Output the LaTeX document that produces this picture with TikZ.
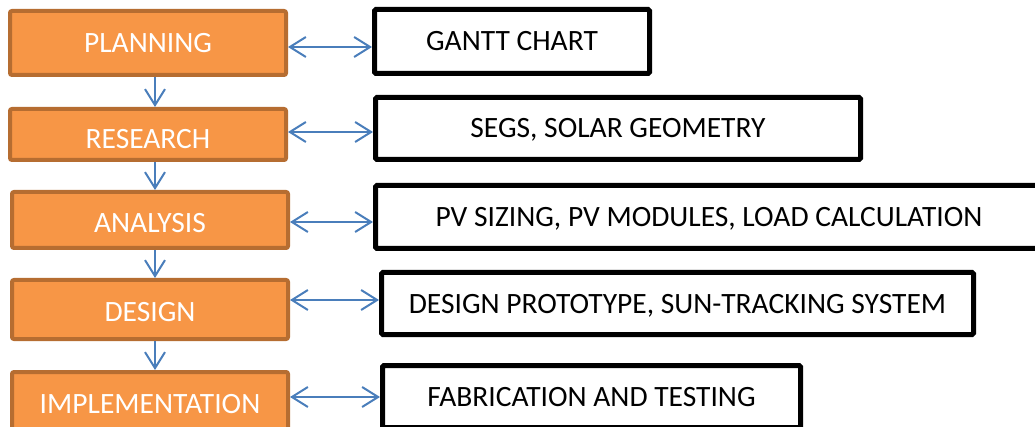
\documentclass[tikz,border=0pt]{standalone}
\usepackage{fontspec}
\setmainfont{Carlito}
\usepackage{tikz}
\usetikzlibrary{arrows.meta}
\definecolor{phasefill}{HTML}{F79646}
\definecolor{phaseline}{HTML}{B66D31}
\definecolor{linkblue}{HTML}{4A7EBB}
\tikzset{
  phase/.style={draw=phaseline, line width=4pt, fill=phasefill, rounded corners=2pt,
    text=white, font=\fontsize{29.5}{35}\selectfont, minimum width=276pt,
    inner sep=0pt, text height=19pt, text depth=0pt},
  task/.style={draw=black, line width=5pt, fill=white, rounded corners=1.5pt,
    font=\fontsize{29.5}{35}\selectfont, inner sep=0pt, text height=19pt, text depth=0pt},
  link/.style={draw=linkblue, line width=2pt,
    {Straight Barb[length=16pt,width=20pt]}-{Straight Barb[length=16pt,width=20pt]}},
  flow/.style={draw=linkblue, line width=2pt, -{Straight Barb[length=16pt,width=20pt]}}
}

\begin{document}
\begin{tikzpicture}[x=1pt,y=-1pt]
	  \useasboundingbox (0,0) rectangle (1035,427);
	  \clip (0,0) rectangle (1035,427);
	  % project phases
	  \node[phase, minimum height=64pt] (plan) at (148,43) {PLANNING};
	  \node[phase, minimum height=51pt, text height=29pt] (res) at (148,134.5) {RESEARCH};
	  \node[phase, minimum height=56pt, text height=25pt] (ana) at (150,220) {ANALYSIS};
	  \node[phase, minimum height=59pt, text height=24pt] (des) at (150,309.5) {DESIGN};
	  \node[phase, minimum height=64pt] (imp) at (150,404) {IMPLEMENTATION};
	  % what each phase covers
	  \node[task, minimum width=275pt, minimum height=64pt] (gantt) at (512,41.5) {GANTT CHART};
	  \node[task, minimum width=485pt, minimum height=62pt] (segs) at (618,128.5) {SEGS, SOLAR GEOMETRY};
	  \node[task, minimum width=667pt, minimum height=63pt] (pv) at (709,217) {PV SIZING, PV MODULES, LOAD CALCULATION};
	  \node[task, minimum width=592pt, minimum height=62pt] (proto) at (677.5,303.5) {DESIGN PROTOTYPE, SUN-TRACKING SYSTEM};
	  \node[task, minimum width=418pt, minimum height=62pt] (fab) at (591.5,396.5) {FABRICATION AND TESTING};
	  % phase order
	  \draw[flow]([xshift=7pt]plan.south) -- ([xshift=7pt]res.north |- res.north);
	  \draw[flow]([xshift=7pt]res.south) -- ([xshift=7pt]res.south |- ana.north);
	  \draw[flow]([xshift=5pt]ana.south) -- ([xshift=5pt]ana.south |- des.north);
	  \draw[flow]([xshift=5pt]des.south) -- ([xshift=5pt]des.south |- imp.north);
	  % phase <-> task
	  \draw[link]([yshift=-4pt]plan.east) -- ([yshift=-4pt]plan.east -| gantt.west);
	  \draw[link]([yshift=2.5pt]res.east) -- ([yshift=2.5pt]res.east -| segs.west);
	  \draw[link]([yshift=-2pt]ana.east) -- ([yshift=-2pt]ana.east -| pv.west);
	  \draw[link]([yshift=9.5pt]des.east) -- ([yshift=9.5pt]des.east -| proto.west);
	  \draw[link]([yshift=7pt]imp.east) -- ([yshift=7pt]imp.east -| fab.west);
	\end{tikzpicture}
\end{document}
